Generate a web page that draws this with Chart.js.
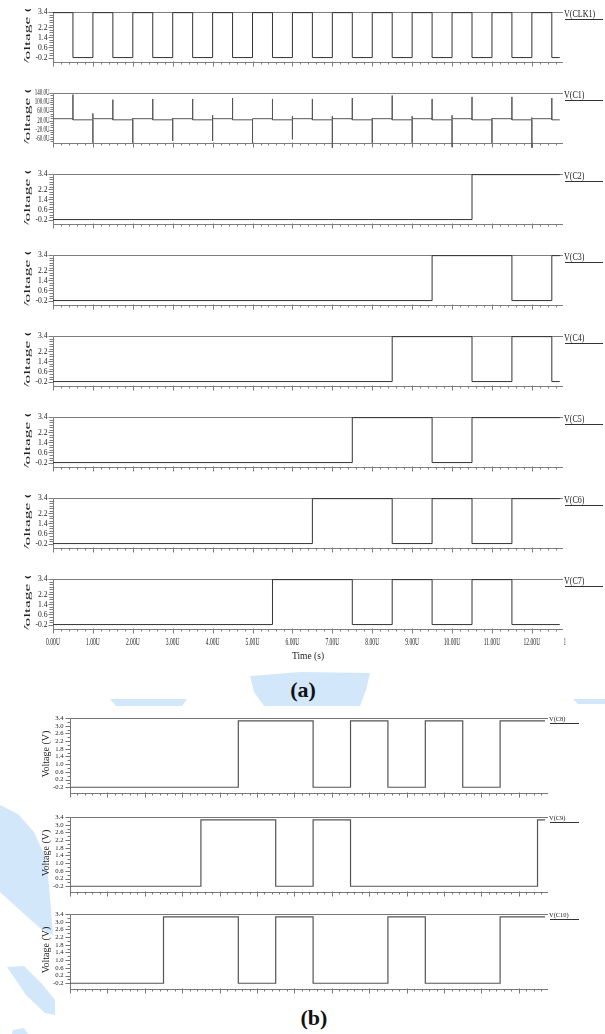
<!DOCTYPE html>
<html>
<head>
<meta charset="utf-8">
<script src="https://cdn.jsdelivr.net/npm/chart.js@4.4.1/dist/chart.umd.min.js"></script>
<style>
html, body { margin: 0; padding: 0; background: #fff; }
body { width: 605px; height: 1034px; position: relative; overflow: hidden; font-family: "Liberation Serif", serif; }
.panel { position: absolute; left: 0; width: 605px; }
.cap { position: absolute; width: 60px; text-align: center; font: bold 22px "Liberation Serif", serif; color: #111; line-height: 22px; }
#mark { position: absolute; left: 0; top: 0; }
</style>
</head>
<body>
<!-- faint blue watermark behind the figure -->
<svg id="mark" width="605" height="1034">
  <g fill="#d3e7fb">
    <polygon points="250,676 300,672 370,673 366,690 360,706 264,706 254,692"/>
    <polygon points="110,699 187,699 182,706 116,706"/>
    <polygon points="573,699 605,699 605,704 578,704"/>
    <polygon points="0,805 18,814 34,832 45,856 49,885 53,935 40,928 22,912 0,892"/>
    <polygon points="7,967 24,966 42,984 55,1000 55,1015 45,1013 26,995"/>
    <polygon points="13,1030 24,1028 28,1034 12,1034"/>
  </g>
</svg>
<div class="cap" style="left:273px;top:679px">(a)</div>
<div class="cap" style="left:284px;top:1007px">(b)</div>
<script>
// ---- data: [time (us), volts] at each edge ----
const vCLK1 = [[0, 3.35], [0.5, -0.2], [1, 3.35], [1.5, -0.2], [2, 3.35], [2.5, -0.2], [3, 3.35], [3.5, -0.2],
    [4, 3.35], [4.5, -0.2], [5, 3.35], [5.5, -0.2], [6, 3.35], [6.5, -0.2], [7, 3.35], [7.5, -0.2],
    [8, 3.35], [8.5, -0.2], [9, 3.35], [9.5, -0.2], [10, 3.35], [10.5, -0.2], [11, 3.35], [11.5, -0.2],
    [12, 3.35], [12.5, -0.2], [12.7, -0.2]];
const vC2 = [[0, -0.2], [10.5, 3.35], [12.7, 3.35]];
const vC3 = [[0, -0.2], [9.5, 3.35], [11.5, -0.2], [12.5, 3.35], [12.7, 3.35]];
const vC4 = [[0, -0.2], [8.5, 3.35], [10.5, -0.2], [11.5, 3.35], [12.5, -0.2], [12.7, -0.2]];
const vC5 = [[0, -0.2], [7.5, 3.35], [9.5, -0.2], [10.5, 3.35], [12.7, 3.35]];
const vC6 = [[0, -0.2], [6.5, 3.35], [8.5, -0.2], [9.5, 3.35], [10.5, -0.2], [11.5, 3.35], [12.7, 3.35]];
const vC7 = [[0, -0.2], [5.5, 3.35], [7.5, -0.2], [8.5, 3.35], [9.5, -0.2], [10.5, 3.35], [11.5, -0.2], [12.7, -0.2]];
const vC8 = [[0, -0.2], [4.5, 3.25], [6.5, -0.2], [7.5, 3.25], [8.5, -0.2], [9.5, 3.25], [10.5, -0.2], [11.5, 3.25], [12.7, 3.25]];
const vC9 = [[0, -0.2], [3.5, 3.25], [5.5, -0.2], [6.5, 3.25], [7.5, -0.2], [12.5, 3.25], [12.7, 3.25]];
const vC10 = [[0, -0.2], [2.5, 3.25], [4.5, -0.2], [5.5, 3.25], [6.5, -0.2], [8.5, 3.25], [9.5, -0.2], [11.5, 3.25], [12.7, 3.25]];

// V(C1): spikes in microvolts
const c1Levels = [28, 23];
const c1UpTimes = [0.5, 1.5, 2.5, 3.5, 4.5, 5.5, 6.5, 7.5, 8.5, 9.5, 10.5, 11.5, 12.5];
const c1UpPeaks = [133, 111, 114, 114, 118, 114, 114, 118, 129, 114, 123, 123, 118];
const c1DownTimes = [1, 2, 3, 4, 5, 6, 7, 8, 9, 10, 11, 12];
const c1Overshoot = [51, 31, 31, 43, 28, 39, 39, 31, 39, 43, 31, 33];
const c1Troughs = [-77, -77, -69, -69, -77, -62, -99, -77, -77, -95, -77, -99];
const c1End = 12.7;

// ---- tick labels ----
const xTickValues = [0, 1, 2, 3, 4, 5, 6, 7, 8, 9, 10, 11, 12, 13];
const xTickLabels = ['0.00U', '1.00U', '2.00U', '3.00U', '4.00U', '5.00U', '6.00U', '7.00U', '8.00U', '9.00U', '10.00U', '11.00U', '12.00U', '13.00U'];
const yTickValuesA = [3.4, 2.2, 1.4, 0.6, -0.2];
const yTickLabelsA = ['3.4', '2.2', '1.4', '0.6', '-0.2'];
const yTickValuesB = [3.4, 3.0, 2.6, 2.2, 1.8, 1.4, 1.0, 0.6, 0.2, -0.2];
const yTickLabelsB = ['3.4', '3.0', '2.6', '2.2', '1.8', '1.4', '1.0', '0.6', '0.2', '-0.2'];
const yTickValuesC1 = [140, 100, 60, 20, -20, -60];
const yTickLabelsC1 = ['140.0U', '100.0U', '60.0U', '20.0U', '-20.0U', '-60.0U'];

function toPoints(edges) {
    return edges.map(([t, v]) => ({ x: t, y: v }));
}

function c1Points() {
    const pts = [{ x: 0, y: c1Levels[0] }];
    c1UpTimes.forEach((t, i) => {
        pts.push({ x: t, y: c1Levels[0] }, { x: t, y: c1UpPeaks[i] }, { x: t, y: c1Levels[1] });
        const d = c1DownTimes[i];
        if (d !== undefined) {
            pts.push({ x: d, y: c1Levels[1] }, { x: d, y: c1Overshoot[i] }, { x: d, y: c1Troughs[i] }, { x: d, y: c1Levels[0] });
        }
    });
    pts.push({ x: c1End, y: c1Levels[1] });
    return pts;
}

function squeezeText(ctx, str, px, py, font, sx, align) {
    ctx.save();
    ctx.translate(px, py);
    ctx.scale(sx, 1);
    ctx.font = font;
    ctx.textAlign = align;
    ctx.textBaseline = 'middle';
    ctx.fillText(str, 0, 0);
    ctx.restore();
}

// draws the scope-style frame, ticks and labels from the chart's own scales
const scopeFrame = {
    id: 'scopeFrame',
    beforeDatasetsDraw(chart, args, o) {
        const { ctx, chartArea: a, scales: { x, y } } = chart;
        const L = Math.round(a.left) + 0.5;
        const T = Math.round(a.top) + 0.5;
        const B = Math.round(a.bottom) + 0.5;
        const R = Math.round(a.right);
        ctx.save();
        ctx.strokeStyle = o.frame;
        ctx.lineWidth = 1;
        ctx.beginPath();
        ctx.moveTo(R, T); ctx.lineTo(L, T); ctx.lineTo(L, B); ctx.lineTo(R, B);
        // x ticks, minor every 0.2
        for (let i = 0; i / 5 <= x.max; i++) {
            const px = Math.round(x.getPixelForValue(i / 5)) + 0.5;
            const major = i % 5 === 0;
            ctx.moveTo(px, major ? B - 1 : B);
            ctx.lineTo(px, B + (major ? o.xMajor : o.xMinor));
        }
        // y ticks
        const n = Math.round((o.yHi - o.yLo) / o.yStep);
        for (let i = 0; i <= n; i++) {
            const v = o.yHi - i * o.yStep;
            const py = Math.round(y.getPixelForValue(v)) + 0.5;
            const major = o.yValues.some(m => Math.abs(m - v) < o.yStep / 10);
            ctx.moveTo(L - (major ? o.yMajor : o.yMinor), py);
            ctx.lineTo(L, py);
        }
        ctx.stroke();

        // underline of the trace name
        ctx.beginPath();
        ctx.strokeStyle = '#333';
        ctx.moveTo(R + 2, T + o.nameUnder);
        ctx.lineTo(R + o.nameUnderLen, T + o.nameUnder);
        ctx.stroke();

        ctx.fillStyle = '#222';
        squeezeText(ctx, o.name, R + 1, T + o.nameDy, o.nameFont, o.nameSx, 'left');

        o.yValues.forEach((v, i) => {
            squeezeText(ctx, o.yLabels[i], L - o.yGap, y.getPixelForValue(v), o.yFont, o.ySx, 'right');
        });

        if (o.xLabels) {
            ctx.save();
            ctx.beginPath();
            ctx.rect(0, B, R + 2.5, chart.height - B);
            ctx.clip();
            xTickValues.forEach((v, i) => {
                squeezeText(ctx, xTickLabels[i], x.getPixelForValue(v), B + 13, '10px "Liberation Serif"', 0.56, 'center');
            });
            ctx.restore();
            squeezeText(ctx, 'Time (s)', (a.left + a.right) / 2, B + 27, '10px "Liberation Serif"', 0.95, 'center');
        }

        // y axis title (cut off at the panel edges in the top figure)
        ctx.save();
        if (o.titleClip) {
            ctx.beginPath();
            ctx.rect(0, a.top - 3, a.left - 12, a.bottom - a.top + 3.5);
            ctx.clip();
        }
        ctx.translate(o.titleX, a.top + o.titleY);
        ctx.rotate(-Math.PI / 2);
        ctx.scale(o.titleStretch, 1);
        ctx.font = o.titleFont;
        ctx.textAlign = 'center';
        ctx.textBaseline = 'middle';
        ctx.fillText('Voltage (V)', 0, 0);
        ctx.restore();

        ctx.restore();
    }
};

// ---- panel layout ----
const styleA = {
    left: 53, right: 563, padTop: 10, plotH: 50, padBottom: 12, yMin: -0.55, yMax: 3.4,
    frame: '#7d7d7d', line: '#333', lineWidth: 1,
    xMajor: 4, xMinor: 2, yMajor: 5, yMinor: 4, yHi: 3.4, yLo: -0.2, yStep: 0.2,
    yValues: yTickValuesA, yLabels: yTickLabelsA, yGap: 6, yFont: '9px "Liberation Serif"', ySx: 0.85,
    nameDy: 2, nameUnder: 7, nameUnderLen: 40, nameFont: '10px "Liberation Serif"', nameSx: 0.8,
    titleX: 27.5, titleY: 17, titleStretch: 1.95, titleFont: '9px "Liberation Serif"', titleClip: true
};
const styleB = {
    left: 70, right: 548, padTop: 8, plotH: 75, padBottom: 10, yMin: -0.5, yMax: 3.4,
    frame: '#777', line: '#555', lineWidth: 1.2,
    xMajor: 4, xMinor: 2, yMajor: 5, yMinor: 3, yHi: 3.4, yLo: -0.2, yStep: 0.2,
    yValues: yTickValuesB, yLabels: yTickLabelsB, yGap: 7, yFont: '7px "Liberation Serif"', ySx: 0.95,
    nameDy: 1, nameUnder: 5, nameUnderLen: 31, nameFont: '7px "Liberation Serif"', nameSx: 0.92,
    titleX: 46.5, titleY: 36, titleStretch: 1, titleFont: '10px "Liberation Serif"', titleClip: false
};

const panels = [
    { name: 'V(CLK1)', points: toPoints(vCLK1), stepped: true, top: 12, style: styleA },
    { name: 'V(C1)', points: c1Points(), stepped: false, top: 93, style: styleA,
      over: { yMin: -78, yMax: 140, yHi: 140, yLo: -70, yStep: 10, yValues: yTickValuesC1, yLabels: yTickLabelsC1,
              yGap: 4, yMajor: 4, yMinor: 3, yFont: '8px "Liberation Serif"', ySx: 0.62, line: '#555' } },
    { name: 'V(C2)', points: toPoints(vC2), stepped: true, top: 174, style: styleA },
    { name: 'V(C3)', points: toPoints(vC3), stepped: true, top: 255, style: styleA },
    { name: 'V(C4)', points: toPoints(vC4), stepped: true, top: 336, style: styleA },
    { name: 'V(C5)', points: toPoints(vC5), stepped: true, top: 417, style: styleA },
    { name: 'V(C6)', points: toPoints(vC6), stepped: true, top: 498, style: styleA },
    { name: 'V(C7)', points: toPoints(vC7), stepped: true, top: 579, style: styleA, over: { padBottom: 45, xLabels: true } },
    { name: 'V(C8)', points: toPoints(vC8), stepped: true, top: 718, style: styleB },
    { name: 'V(C9)', points: toPoints(vC9), stepped: true, top: 817, style: styleB },
    { name: 'V(C10)', points: toPoints(vC10), stepped: true, top: 914, style: styleB }
];

panels.forEach(p => {
    const s = Object.assign({}, p.style, p.over || {}, { name: p.name });
    const box = document.createElement('div');
    box.className = 'panel';
    box.style.top = (p.top - s.padTop) + 'px';
    box.style.height = (s.padTop + s.plotH + s.padBottom) + 'px';
    const canvas = document.createElement('canvas');
    box.appendChild(canvas);
    document.body.appendChild(box);

    new Chart(canvas, {
        type: 'line',
        data: {
            datasets: [{
                data: p.points,
                borderColor: s.line,
                borderWidth: s.lineWidth,
                pointRadius: 0,
                stepped: p.stepped ? 'before' : false,
                tension: 0,
                fill: false,
                clip: false
            }]
        },
        options: {
            responsive: true,
            maintainAspectRatio: false,
            animation: false,
            events: [],
            layout: { padding: { left: s.left, right: 605 - s.right, top: s.padTop, bottom: s.padBottom } },
            plugins: {
                legend: { display: false },
                tooltip: { enabled: false },
                scopeFrame: s
            },
            scales: {
                x: { type: 'linear', display: false, min: 0, max: 12.78 },
                y: { type: 'linear', display: false, min: s.yMin, max: s.yMax }
            }
        },
        plugins: [scopeFrame]
    });
});
</script>
</body>
</html>
